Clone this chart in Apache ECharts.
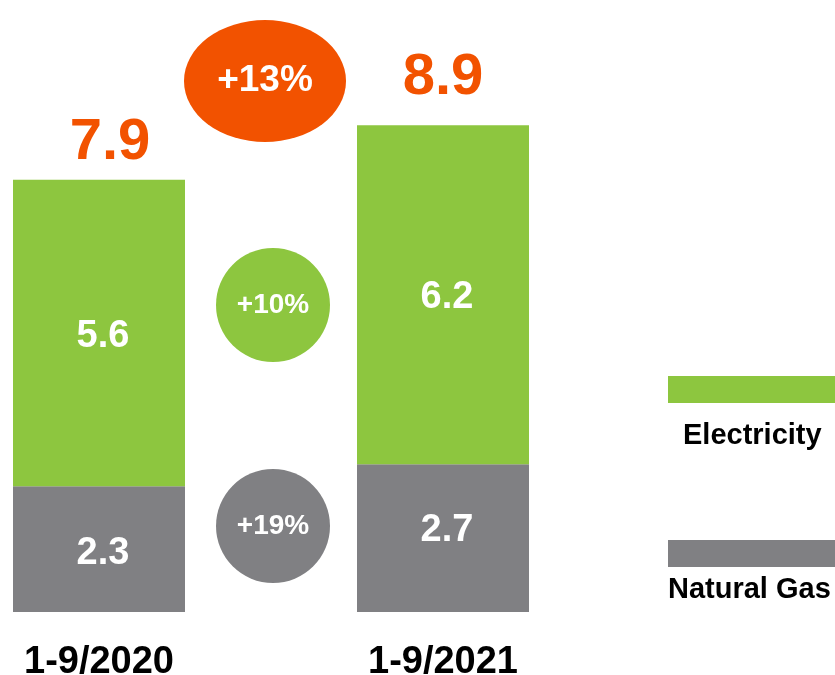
<!DOCTYPE html>
<html><head><meta charset="utf-8">
<script src="https://cdn.jsdelivr.net/npm/echarts@6/dist/echarts.min.js"></script>
<style>html,body{margin:0;padding:0;background:#fff}#c{width:835px;height:675px}</style>
</head><body><div id="c"></div>
<script>
const categories = ['1-9/2020', '1-9/2021'];
const naturalGas = [2.3, 2.7];
const electricity = [5.6, 6.2];
const totals = [7.9, 8.9];
const growthTotal = '+13%';
const growthElectricity = '+10%';
const growthGas = '+19%';
const seriesNames = ['Electricity', 'Natural Gas'];

const GREEN = '#8DC63F', GRAY = '#808083', ORANGE = '#F25200';
const FONT = '"Liberation Sans", Arial, sans-serif';
const gasLabelOffsets = [[4, 4], [4, -8]];
const totalLabelOffsets = [[11, 4], [0, -6]];

const chart = echarts.init(document.getElementById('c'), null, {renderer: 'canvas'});
chart.setOption({
  animation: false,
  grid: {left: -73, width: 688, top: 65, height: 547, outerBoundsMode: 'none', containLabel: false},
  xAxis: {
    type: 'category', data: categories,
    axisLine: {show: false}, axisTick: {show: false},
    axisLabel: {fontFamily: FONT, fontSize: 38, fontWeight: 'bold', color: '#000', margin: 32, lineHeight: 38}
  },
  yAxis: {type: 'value', min: 0, max: 10, show: false, splitLine: {show: false}},
  series: [
    {
      name: seriesNames[1], type: 'bar', stack: 't', barWidth: 172,
      data: naturalGas.map((v, i) => ({value: v, label: {offset: gasLabelOffsets[i]}})),
      itemStyle: {color: GRAY},
      label: {show: true, position: 'inside', color: '#fff', fontFamily: FONT, fontSize: 38, fontWeight: 'bold'}
    },
    {
      name: seriesNames[0], type: 'bar', stack: 't', data: electricity, barWidth: 172,
      itemStyle: {color: GREEN},
      label: {show: true, position: 'inside', offset: [4, 3], color: '#fff', fontFamily: FONT, fontSize: 38, fontWeight: 'bold'}
    },
    {
      name: 'Total', type: 'bar', stack: 't', barWidth: 172,
      data: totals.map((v, i) => ({value: 0, label: {offset: totalLabelOffsets[i]}})),
      itemStyle: {color: 'transparent'},
      label: {show: true, position: 'top', distance: 12, color: ORANGE, fontFamily: FONT, fontSize: 58, fontWeight: 'bold',
        formatter: p => totals[p.dataIndex].toFixed(1)}
    }
  ]
});

const x0 = chart.convertToPixel({xAxisIndex: 0}, categories[0]);
const x1 = chart.convertToPixel({xAxisIndex: 0}, categories[1]);
const mid = (x0 + x1) / 2;

function bubble(cx, cy, r, sy, color, text, fs) {
  return [
    {type: 'circle', shape: {cx: 0, cy: 0, r: r}, x: cx, y: cy, scaleY: sy, style: {fill: color}},
    {type: 'text', x: cx, y: cy, style: {text: text, fill: '#fff', font: 'bold ' + fs + 'px ' + FONT, align: 'center', verticalAlign: 'middle'}}
  ];
}

chart.setOption({
  graphic: [].concat(
    bubble(mid - 6, 81, 81, 61 / 81, ORANGE, growthTotal, 37),
    bubble(mid + 2, 305, 57, 1, GREEN, growthElectricity, 28),
    bubble(mid + 2, 526, 57, 1, GRAY, growthGas, 28),
    [
      {type: 'rect', shape: {x: 668, y: 376, width: 200, height: 27}, style: {fill: GREEN}},
      {type: 'text', x: 683, y: 436, style: {text: seriesNames[0], fill: '#000', font: 'bold 29px ' + FONT, align: 'left', verticalAlign: 'middle'}},
      {type: 'rect', shape: {x: 668, y: 540, width: 200, height: 27}, style: {fill: GRAY}},
      {type: 'text', x: 668, y: 590, style: {text: seriesNames[1], fill: '#000', font: 'bold 29px ' + FONT, align: 'left', verticalAlign: 'middle'}}
    ]
  )
});
</script>
</body></html>
